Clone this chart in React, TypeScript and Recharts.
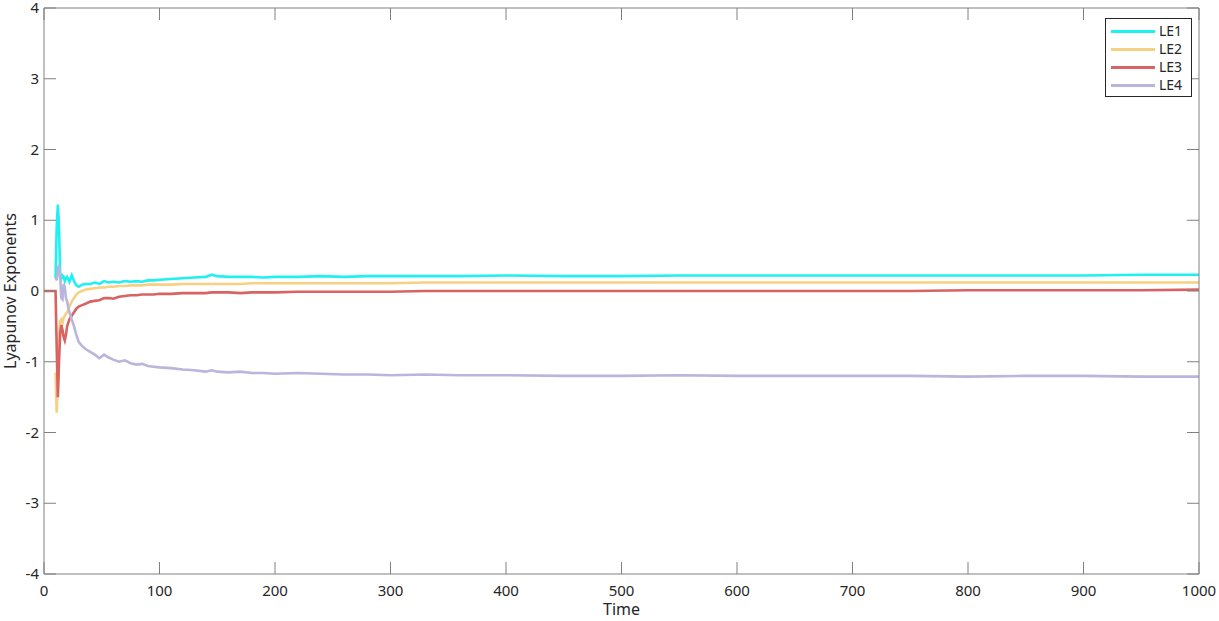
import React from 'react';
import { LineChart, Line, XAxis, YAxis, Legend, Label } from 'recharts';

const times = [0, 10, 11, 12, 13, 14, 15, 16, 17, 18, 19, 20, 22, 24, 26, 28, 30, 33, 36, 40, 44, 48, 52, 56, 60, 65, 70, 75, 80, 85, 90, 95, 100, 110, 120, 130, 140, 145, 150, 160, 170, 180, 190, 200, 220, 240, 260, 280, 300, 330, 360, 400, 450, 500, 550, 600, 650, 700, 750, 800, 850, 900, 950, 1000];

const le1 = [null, 0.18, 0.9, 1.22, 0.9, 0.22, 0.18, 0.22, 0.2, 0.14, 0.18, 0.2, 0.13, 0.22, 0.14, 0.08, 0.06, 0.09, 0.1, 0.1, 0.12, 0.1, 0.14, 0.12, 0.13, 0.12, 0.14, 0.13, 0.14, 0.13, 0.15, 0.15, 0.16, 0.17, 0.18, 0.19, 0.2, 0.23, 0.21, 0.2, 0.2, 0.2, 0.19, 0.2, 0.2, 0.21, 0.2, 0.21, 0.21, 0.21, 0.21, 0.22, 0.21, 0.21, 0.22, 0.22, 0.22, 0.22, 0.22, 0.22, 0.22, 0.22, 0.23, 0.23];
const le2 = [null, -1.15, -1.72, -1.3, -0.6, -0.42, -0.4, -0.45, -0.38, -0.35, -0.32, -0.3, -0.22, -0.15, -0.1, -0.05, -0.02, 0.0, 0.02, 0.03, 0.04, 0.05, 0.05, 0.06, 0.06, 0.07, 0.07, 0.08, 0.08, 0.08, 0.09, 0.09, 0.09, 0.09, 0.1, 0.1, 0.1, 0.1, 0.1, 0.1, 0.1, 0.11, 0.11, 0.11, 0.11, 0.11, 0.11, 0.11, 0.11, 0.12, 0.12, 0.12, 0.12, 0.12, 0.12, 0.12, 0.12, 0.12, 0.12, 0.12, 0.12, 0.12, 0.12, 0.12];
const le3 = [0, 0, -0.8, -1.5, -1.0, -0.6, -0.48, -0.55, -0.65, -0.7, -0.62, -0.5, -0.4, -0.35, -0.3, -0.25, -0.22, -0.2, -0.18, -0.15, -0.14, -0.13, -0.1, -0.1, -0.11, -0.08, -0.07, -0.06, -0.06, -0.05, -0.05, -0.05, -0.04, -0.04, -0.03, -0.03, -0.03, -0.02, -0.02, -0.02, -0.03, -0.02, -0.02, -0.02, -0.01, -0.01, -0.01, -0.01, -0.01, 0.0, 0.0, 0.0, 0.0, 0.0, 0.0, 0.0, 0.0, 0.0, 0.0, 0.01, 0.01, 0.01, 0.01, 0.02];
const le4 = [null, 0.2, 0.15, 0.3, 0.37, 0.2, -0.1, -0.12, 0.1, 0.05, -0.1, -0.15, -0.3, -0.4, -0.5, -0.62, -0.72, -0.78, -0.82, -0.86, -0.9, -0.95, -0.9, -0.94, -0.97, -1.0, -0.98, -1.02, -1.04, -1.03, -1.06, -1.07, -1.08, -1.09, -1.11, -1.12, -1.14, -1.12, -1.14, -1.15, -1.14, -1.16, -1.16, -1.17, -1.16, -1.17, -1.18, -1.18, -1.19, -1.18, -1.19, -1.19, -1.2, -1.2, -1.19, -1.2, -1.2, -1.2, -1.2, -1.21, -1.2, -1.2, -1.21, -1.21];

const seriesNames = ['LE1', 'LE2', 'LE3', 'LE4'];
const seriesColors = ['#1FF0F0', '#F8D084', '#D96262', '#B9B5DC'];
const xTicks = [0, 100, 200, 300, 400, 500, 600, 700, 800, 900, 1000];
const yTicks = [-4, -3, -2, -1, 0, 1, 2, 3, 4];

const data = times.map((t, i) => ({ t, LE1: le1[i], LE2: le2[i], LE3: le3[i], LE4: le4[i] }));

const FONT = '"Noto Sans", sans-serif';
const TEXT = '#262626';
const AXIS = '#808080';
const TICK_LEN = 12;

const BottomTick = (props: any) => {
  const { x, y, payload } = props;
  return (
    <g>
      <line x1={x} y1={y} x2={x} y2={y - TICK_LEN} stroke={AXIS} strokeWidth={1} />
      <text x={x} y={y + 22} textAnchor="middle" fontSize={15} fill={TEXT} fontFamily={FONT}>{payload.value}</text>
    </g>
  );
};
const TopTick = (props: any) => {
  const { x, y } = props;
  return <line x1={x} y1={y} x2={x} y2={y + TICK_LEN} stroke={AXIS} strokeWidth={1} />;
};
const LeftTick = (props: any) => {
  const { x, y, payload } = props;
  return (
    <g>
      <line x1={x} y1={y} x2={x + TICK_LEN} y2={y} stroke={AXIS} strokeWidth={1} />
      <text x={x - 5} y={y + 5} textAnchor="end" fontSize={15} fill={TEXT} fontFamily={FONT}>{payload.value}</text>
    </g>
  );
};
const RightTick = (props: any) => {
  const { x, y } = props;
  return <line x1={x} y1={y} x2={x - TICK_LEN} y2={y} stroke={AXIS} strokeWidth={1} />;
};

const LegendBox = (props: any) => {
  const { payload } = props;
  return (
    <div style={{ border: '1px solid #262626', background: '#fff', width: 87, padding: '3px 0 2px 0', boxSizing: 'border-box' }}>
      {(payload || []).map((p: any) => (
        <div key={p.value} style={{ display: 'flex', alignItems: 'center', height: 18 }}>
          <div style={{ width: 44, height: 3, background: p.color, marginLeft: 5, marginRight: 4 }} />
          <span style={{ fontFamily: FONT, fontSize: 14, color: TEXT, lineHeight: '18px' }}>{p.value}</span>
        </div>
      ))}
    </div>
  );
};

export default function App() {
  return (
    <div style={{ position: 'absolute', left: 0, top: 0, width: 1219, height: 621, background: '#fff' }}>
      <LineChart width={1219} height={621} data={data} margin={{ top: 7, right: 19, bottom: 0, left: 0 }}>
        <XAxis xAxisId="bottom" dataKey="t" type="number" domain={[0, 1000]} ticks={xTicks} tickSize={0} tickMargin={0} tick={<BottomTick />} tickLine={false} axisLine={{ stroke: AXIS }} height={47} interval={0}>
          <Label value="Time" position="insideBottom" offset={6} style={{ fontFamily: FONT, fontSize: 16, fill: TEXT }} />
        </XAxis>
        <XAxis xAxisId="top" orientation="top" dataKey="t" type="number" domain={[0, 1000]} ticks={xTicks} tickSize={0} tickMargin={0} tick={<TopTick />} tickLine={false} axisLine={{ stroke: AXIS }} height={1} interval={0} />
        <YAxis yAxisId="left" type="number" domain={[-4, 4]} ticks={yTicks} tickSize={0} tickMargin={0} tick={<LeftTick />} tickLine={false} axisLine={{ stroke: AXIS }} width={44} interval={0}>
          <Label value="Lyapunov Exponents" angle={-90} position="insideLeft" offset={10} style={{ fontFamily: FONT, fontSize: 16, fill: TEXT, textAnchor: 'middle' }} />
        </YAxis>
        <YAxis yAxisId="right" orientation="right" type="number" domain={[-4, 4]} ticks={yTicks} tickSize={0} tickMargin={0} tick={<RightTick />} tickLine={false} axisLine={{ stroke: AXIS }} width={1} interval={0} />
        <Legend layout="horizontal" align="center" verticalAlign="middle" content={<LegendBox />} wrapperStyle={{ position: 'absolute', top: 18, right: 27, left: 'auto', bottom: 'auto', width: 87 }} />
        {seriesNames.map((name, i) => (
          <Line key={name} xAxisId={i === 3 ? 'top' : 'bottom'} yAxisId={i === 3 ? 'right' : 'left'} type="linear" dataKey={name} name={name} stroke={seriesColors[i]} strokeWidth={2.6} dot={false} isAnimationActive={false} connectNulls={false} />
        ))}
      </LineChart>
    </div>
  );
}
